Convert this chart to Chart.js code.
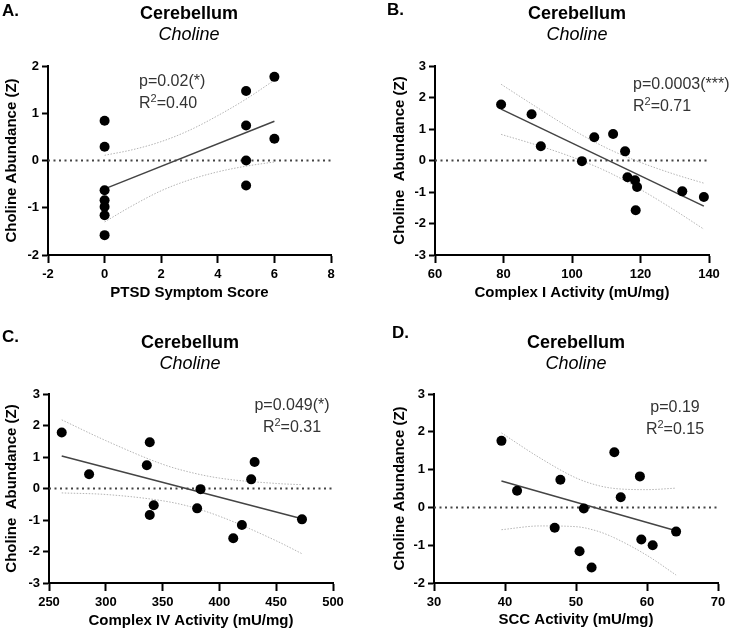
<!DOCTYPE html>
<html>
<head>
<meta charset="utf-8">
<script src="https://cdn.jsdelivr.net/npm/chart.js@4.4.1/dist/chart.umd.min.js"></script>
<style>
  body { margin: 0; background: #fff; }
  #wrap { position: relative; width: 731px; height: 633px; }
  canvas { position: absolute; }
</style>
</head>
<body>
<div id="wrap">
  <canvas id="chartA" width="365" height="316" style="left:0;top:0"></canvas>
  <canvas id="chartB" width="366" height="316" style="left:365px;top:0"></canvas>
  <canvas id="chartC" width="365" height="317" style="left:0;top:316px"></canvas>
  <canvas id="chartD" width="366" height="317" style="left:365px;top:316px"></canvas>
</div>
<script>
const FONT = 'Arial, "Liberation Sans", sans-serif';

// A. PTSD symptom score
const ptsdScore = [0, 0, 0, 0, 0, 0, 0, 5, 5, 5, 5, 6, 6];
const cholineA = [0.84, 0.29, -0.63, -0.84, -0.98, -1.16, -1.58, 1.47, 0.74, 0.00, -0.53, 1.77, 0.46];
const fitAx = [0, 6];
const fitAy = [-0.60, 0.83];
const bandAx = [0, 1, 2, 3, 4, 5, 6];
const bandAup = [0.11, 0.23, 0.40, 0.64, 0.95, 1.30, 1.70];
const bandAlo = [-1.30, -0.95, -0.64, -0.41, -0.24, -0.12, -0.03];
const xTicksA = [-2, 0, 2, 4, 6, 8];
const yTicksA = [-2, -1, 0, 1, 2];

// B. Complex I activity
const complexI = [79.3, 88.2, 90.9, 102.9, 106.5, 112, 115.5, 116.2, 118.4, 119, 118.6, 132.2, 138.5];
const cholineB = [1.78, 1.47, 0.45, -0.02, 0.74, 0.84, 0.29, -0.53, -0.63, -0.84, -1.58, -0.98, -1.16];
const fitBx = [79.3, 138.5];
const fitBy = [1.63, -1.45];
const bandBx = [79.3, 90, 100, 110.6, 120, 130, 138.5];
const bandBup = [2.42, 1.67, 0.99, 0.37, -0.06, -0.44, -0.72];
const bandBlo = [0.83, 0.48, 0.11, -0.37, -0.92, -1.58, -2.18];
const xTicksB = [60, 80, 100, 120, 140];
const yTicksB = [-3, -2, -1, 0, 1, 2, 3];

// C. Complex IV activity
const complexIV = [261.2, 285.3, 336.1, 338.7, 338.7, 342.2, 380.4, 383.4, 412.2, 419.8, 428, 431, 472.7];
const cholineC = [1.78, 0.45, 0.74, 1.47, -0.84, -0.53, -0.63, -0.02, -1.58, -1.16, 0.29, 0.84, -0.98];
const fitCx = [261.2, 472.7];
const fitCy = [1.03, -0.96];
const bandCx = [261.2, 300, 350, 371.5, 400, 450, 472.7];
const bandCup = [2.18, 1.52, 0.77, 0.54, 0.33, 0.16, 0.12];
const bandClo = [-0.14, -0.19, -0.39, -0.55, -0.88, -1.66, -2.07];
const xTicksC = [250, 300, 350, 400, 450, 500];
const yTicksC = [-3, -2, -1, 0, 1, 2, 3];

// D. SCC activity
const scc = [39.5, 41.7, 47.8, 47.0, 51.1, 50.5, 52.2, 55.4, 56.3, 59.0, 59.2, 60.8, 64.1];
const cholineD = [1.76, 0.44, 0.73, -0.54, -0.03, -1.16, -1.59, 1.46, 0.27, 0.82, -0.85, -1.0, -0.64];
const fitDx = [39.5, 64.1];
const fitDy = [0.70, -0.62];
const bandDx = [39.5, 45, 50, 52.7, 55, 60, 64.1];
const bandDup = [1.97, 1.30, 0.78, 0.60, 0.51, 0.47, 0.51];
const bandDlo = [-0.59, -0.49, -0.51, -0.61, -0.77, -1.27, -1.79];
const xTicksD = [30, 40, 50, 60, 70];
const yTicksD = [-2, -1, 0, 1, 2, 3];

const zip = (xs, ys) => xs.map((x, i) => ({ x: x, y: ys[i] }));

// letter, title, subtitle and the p / R2 block
const panelText = {
  id: 'panelText',
  afterDraw(chart, args, o) {
    const ctx = chart.ctx;
    ctx.save();
    ctx.textBaseline = 'alphabetic';
    ctx.fillStyle = '#000';
    ctx.textAlign = 'left';
    ctx.font = 'bold 17px ' + FONT;
    ctx.fillText(o.letter, o.letterX, o.letterY);
    ctx.textAlign = 'center';
    ctx.font = 'bold 18px ' + FONT;
    ctx.fillText('Cerebellum', o.titleX, o.titleY);
    ctx.font = 'italic 18px ' + FONT;
    ctx.fillText('Choline', o.titleX, o.titleY + 20.5);

    ctx.fillStyle = '#333';
    ctx.textAlign = 'left';
    ctx.font = '16px ' + FONT;
    const pW = ctx.measureText(o.p).width;
    ctx.fillText(o.p, o.center ? o.annX - pW / 2 : o.annX, o.annY);

    const rW = ctx.measureText('R').width;
    const restW = ctx.measureText('=' + o.r2).width;
    ctx.font = '11px ' + FONT;
    const sW = ctx.measureText('2').width;
    let x = o.center ? o.annX - (rW + sW + restW) / 2 : o.annX;
    const y = o.annY + 22;
    ctx.font = '16px ' + FONT;
    ctx.fillText('R', x, y);
    ctx.font = '11px ' + FONT;
    ctx.fillText('2', x + rW, y - 6);
    ctx.font = '16px ' + FONT;
    ctx.fillText('=' + o.r2, x + rW + sW, y);
    ctx.restore();
  }
};

function makeChart(id, d) {
  const tickFont = { family: FONT, size: 13, weight: 'bold' };
  const titleFont = { family: FONT, size: 15, weight: 'bold' };
  const xMin = d.xTicks[0], xMax = d.xTicks[d.xTicks.length - 1];
  const yMin = d.yTicks[0], yMax = d.yTicks[d.yTicks.length - 1];
  const band = (data) => ({
    data: data, showLine: true, pointRadius: 0, borderColor: '#b4b4b4',
    borderWidth: 1, borderDash: [1.5, 1.5], tension: 0.4, cubicInterpolationMode: 'monotone'
  });
  return new Chart(document.getElementById(id), {
    type: 'scatter',
    data: {
      datasets: [
        { data: zip(d.x, d.y), pointRadius: 5, pointHoverRadius: 5,
          backgroundColor: '#000', borderColor: '#000', borderWidth: 0 },
        { data: zip(d.fitX, d.fitY), showLine: true, pointRadius: 0,
          borderColor: '#444', borderWidth: 1.5 },
        band(zip(d.bandX, d.bandUp)),
        band(zip(d.bandX, d.bandLo)),
        { data: [{ x: xMin, y: 0 }, { x: xMax, y: 0 }], showLine: true, pointRadius: 0,
          borderColor: '#444', borderWidth: 2, borderDash: [2, 3.5] }
      ]
    },
    options: {
      responsive: false,
      animation: false,
      devicePixelRatio: 1,
      layout: { padding: { top: d.lay.top, right: d.lay.right, left: 0, bottom: 0 } },
      plugins: { legend: { display: false }, tooltip: { enabled: false }, panelText: d.text },
      scales: {
        x: {
          type: 'linear', min: xMin, max: xMax,
          afterBuildTicks: (s) => { s.ticks = d.xTicks.map((v) => ({ value: v })); },
          afterFit: (s) => { s.height = d.lay.xh; },
          border: { color: '#000', width: 2 },
          grid: { drawOnChartArea: false, color: '#000', tickLength: 8, tickWidth: 2 },
          ticks: { color: '#000', font: tickFont, padding: 4 },
          title: { display: true, text: d.xTitle, color: '#000', font: titleFont,
                   padding: { top: 0, bottom: d.lay.xtp } }
        },
        y: {
          type: 'linear', min: yMin, max: yMax,
          afterBuildTicks: (s) => { s.ticks = d.yTicks.map((v) => ({ value: v })); },
          afterFit: (s) => { s.width = d.lay.yw; },
          border: { color: '#000', width: 2 },
          grid: { drawOnChartArea: false, color: '#000', tickLength: 6, tickWidth: 2 },
          ticks: { color: '#000', font: tickFont, padding: 3 },
          title: { display: true, text: d.yTitle, color: '#000', font: titleFont,
                   padding: { top: d.lay.ytp, bottom: 0 } }
        }
      }
    },
    plugins: [panelText]
  });
}

makeChart('chartA', {
  x: ptsdScore, y: cholineA, fitX: fitAx, fitY: fitAy,
  bandX: bandAx, bandUp: bandAup, bandLo: bandAlo,
  xTicks: xTicksA, yTicks: yTicksA,
  xTitle: 'PTSD Symptom Score', yTitle: 'Choline Abundance (Z)',
  lay: { top: 66, right: 34, yw: 48, xh: 61, ytp: 3, xtp: 14 },
  text: { letter: 'A.', letterX: 2, letterY: 16, titleX: 189, titleY: 19,
          p: 'p=0.02(*)', r2: '0.40', annX: 139, annY: 86, center: false }
});

makeChart('chartB', {
  x: complexI, y: cholineB, fitX: fitBx, fitY: fitBy,
  bandX: bandBx, bandUp: bandBup, bandLo: bandBlo,
  xTicks: xTicksB, yTicks: yTicksB,
  xTitle: 'Complex I Activity (mU/mg)', yTitle: 'Choline  Abundance (Z)',
  lay: { top: 66, right: 22, yw: 70, xh: 61, ytp: 26, xtp: 14 },
  text: { letter: 'B.', letterX: 22, letterY: 15, titleX: 212, titleY: 19,
          p: 'p=0.0003(***)', r2: '0.71', annX: 268, annY: 89, center: false }
});

makeChart('chartC', {
  x: complexIV, y: cholineC, fitX: fitCx, fitY: fitCy,
  bandX: bandCx, bandUp: bandCup, bandLo: bandClo,
  xTicks: xTicksC, yTicks: yTicksC,
  xTitle: 'Complex IV Activity (mU/mg)', yTitle: 'Choline  Abundance (Z)',
  lay: { top: 78, right: 32, yw: 49, xh: 50, ytp: 3, xtp: 3 },
  text: { letter: 'C.', letterX: 2, letterY: 26, titleX: 190, titleY: 32,
          p: 'p=0.049(*)', r2: '0.31', annX: 292, annY: 94, center: true }
});

makeChart('chartD', {
  x: scc, y: cholineD, fitX: fitDx, fitY: fitDy,
  bandX: bandDx, bandUp: bandDup, bandLo: bandDlo,
  xTicks: xTicksD, yTicks: yTicksD,
  xTitle: 'SCC Activity (mU/mg)', yTitle: 'Choline Abundance (Z)',
  lay: { top: 78, right: 13, yw: 69, xh: 50, ytp: 26, xtp: 4 },
  text: { letter: 'D.', letterX: 27, letterY: 22, titleX: 211, titleY: 32,
          p: 'p=0.19', r2: '0.15', annX: 310, annY: 96, center: true }
});
</script>
</body>
</html>
